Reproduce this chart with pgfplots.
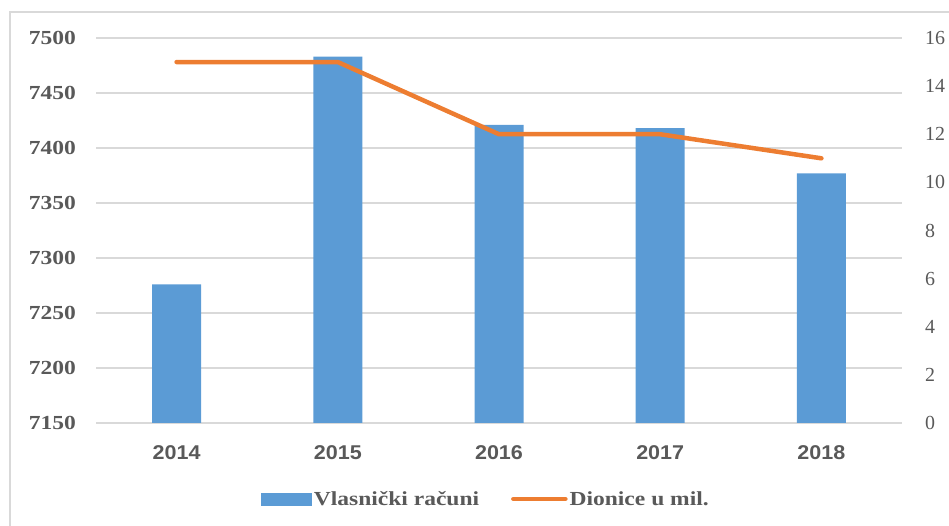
\documentclass[border=0pt]{standalone}
\usepackage{fontspec}
\setmainfont{Liberation Serif}
\newfontfamily\wideserif{Liberation Serif}[FakeStretch=1.18]
\newfontfamily\xsans{Liberation Sans}[FakeStretch=1.08]
\usepackage{pgfplots}
\pgfplotsset{compat=1.18}
\definecolor{barblue}{HTML}{5B9BD5}
\definecolor{lineorange}{HTML}{ED7D31}
\definecolor{txtgrey}{HTML}{595959}
\definecolor{gridgrey}{HTML}{D9D9D9}
\pgfplotsset{
    base/.style={
        scale only axis,
        width=806bp, height=385bp,
        at={(96bp,103bp)}, anchor=south west,
        xmin=-0.5, xmax=4.5,
        xtick={0,1,2,3,4},
        major tick length=0pt,
        axis line style={draw=none},
        tick label style={text=txtgrey, inner sep=0pt},
        /pgf/number format/assume math mode=true,
        /pgf/number format/1000 sep={},
    }
}
\begin{document}
\begin{tikzpicture}
    \useasboundingbox (0,0) rectangle (949bp,526bp);
    % outer frame, cut by the picture's right and bottom edges
    \draw[gridgrey, line width=1.5bp] (10bp,-5bp) |- (960bp,514bp);

    \begin{axis}[
        base,
        axis x line*=bottom,
        axis y line*=left,
        ymin=7150, ymax=7500,
        ytick={7150,7200,...,7500},
        ymajorgrids=true,
        grid style={draw=gridgrey, line width=1.5bp},
        yticklabel style={font=\fontsize{20}{20}\wideserif\bfseries, anchor=east, xshift=-20bp},
        xticklabels={2014,2015,2016,2017,2018},
        xticklabel style={font=\fontsize{20}{20}\xsans\bfseries, anchor=north, yshift=-22bp},
    ]
        \addplot[ybar, bar width=49bp, fill=barblue, draw=none] coordinates {
            (0,7276) (1,7483) (2,7421) (3,7418) (4,7377)
        };
    \end{axis}

    \begin{axis}[
        base,
        axis x line=none,
        axis y line*=right,
        ymin=0, ymax=16,
        ytick={0,2,...,16},
        yticklabel style={font=\fontsize{20}{20}\selectfont, anchor=west, xshift=23bp},
        legend style={
            at={(0.484,-0.197)}, anchor=center,
            draw=none, fill=none,
            legend columns=2,
            font=\fontsize{20}{20}\wideserif\bfseries,
            text=txtgrey,
            /tikz/every even column/.append style={column sep=30bp},
        },
    ]
        \addlegendimage{legend image code/.code={
            \fill[barblue] (0bp,-6bp) rectangle (50bp,6bp);}}
        \addlegendentry{Vlasnički računi}
        \addplot[lineorange, line width=4.5bp, line cap=round, line join=round,
            legend image code/.code={
                \draw[lineorange, line width=4.5bp, line cap=round] (2bp,0) -- (54bp,0);}]
            coordinates {(0,15) (1,15) (2,12) (3,12) (4,11)};
        \addlegendentry{Dionice u mil.}
    \end{axis}
\end{tikzpicture}
\end{document}
